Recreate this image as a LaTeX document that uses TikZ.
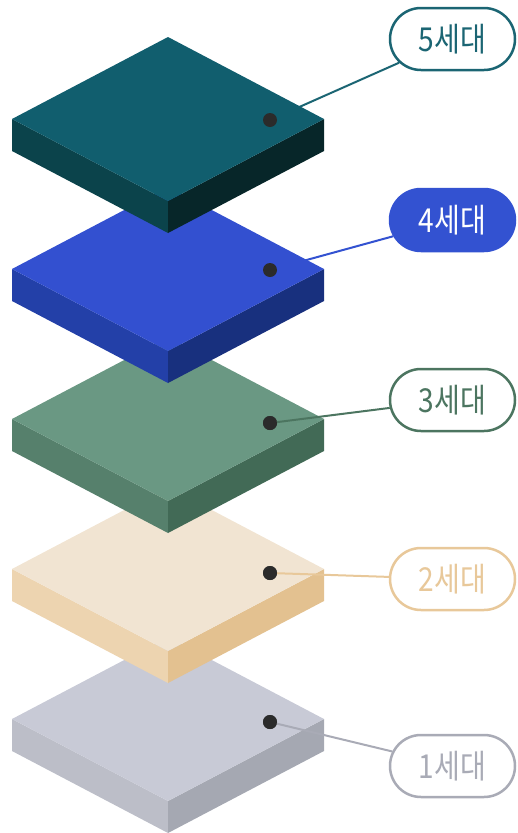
\documentclass[tikz,border=0pt]{standalone}
\usepackage{fontspec}
\newfontfamily\krfont[FakeStretch=0.85]{Noto Sans CJK KR}
\usetikzlibrary{shapes.misc}
\definecolor{dotc}{HTML}{2B2B2B}
\definecolor{tA}{HTML}{115E6E}\definecolor{lA}{HTML}{0B434B}\definecolor{rA}{HTML}{072629}
\definecolor{tB}{HTML}{3350D0}\definecolor{lB}{HTML}{2340A8}\definecolor{rB}{HTML}{18307E}
\definecolor{tC}{HTML}{6A9883}\definecolor{lC}{HTML}{56806C}\definecolor{rC}{HTML}{426A56}
\definecolor{tD}{HTML}{F1E4D2}\definecolor{lD}{HTML}{EDD4B0}\definecolor{rD}{HTML}{E3C190}
\definecolor{tE}{HTML}{C8CAD6}\definecolor{lE}{HTML}{BCBEC8}\definecolor{rE}{HTML}{A5A8B2}
\definecolor{cA}{HTML}{1B6573}
\definecolor{cB}{HTML}{3352D1}
\definecolor{cC}{HTML}{4C7560}
\definecolor{cD}{HTML}{E8C89A}
\definecolor{cE}{HTML}{A9ABB6}
\newcommand\slabdraw[4]{%
  \fill[#3] (12,#1) -- (168,{#1+82}) -- (168,{#1+114}) -- (12,{#1+32}) -- cycle;
  \fill[#4] (168,{#1+82}) -- (324,#1) -- (324,{#1+32}) -- (168,{#1+114}) -- cycle;
  \fill[#2] (12,#1) -- (168,{#1-82}) -- (324,#1) -- (168,{#1+82}) -- cycle;
}
\begin{document}
\begin{tikzpicture}[x=1pt,y=-1pt,
  pill/.style={rounded rectangle, minimum width=125pt, minimum height=62pt,
    line width=2.5pt, inner sep=0pt, fill=white,
    font=\krfont\fontsize{33}{33}\selectfont},
  dot/.style={circle, fill=dotc, minimum size=14pt, inner sep=0pt},
  link/.style={line width=2pt}]
\useasboundingbox (0,0) rectangle (517,833);
% pills
\node[pill, draw=cA, text=cA] (l5) at (452.5,39) {5세대};
\node[pill, draw=cB, fill=cB, text=white] (l4) at (452.5,220) {4세대};
\node[pill, draw=cC, text=cC] (l3) at (452.5,400) {3세대};
\node[pill, draw=cD, text=cD] (l2) at (452.5,579) {2세대};
\node[pill, draw=cE, text=cE] (l1) at (452.5,766) {1세대};
% slab 1
\slabdraw{719}{tE}{lE}{rE}
\node[dot] (d1) at (270,722) {};
\draw[link, cE] (d1.center) -- (l1);
\node[dot] at (d1) {};
% slab 2
\slabdraw{569}{tD}{lD}{rD}
\node[dot] (d2) at (270,573) {};
\draw[link, cD] (d2.center) -- (l2);
\node[dot] at (d2) {};
% slab 3
\slabdraw{419}{tC}{lC}{rC}
\node[dot] (d3) at (270,423) {};
\draw[link, cC] (d3.center) -- (l3);
\node[dot] at (d3) {};
% slab 4 (connector behind)
\coordinate (d4) at (270,270);
\draw[link, cB] (d4) -- (l4);
\slabdraw{269}{tB}{lB}{rB}
\node[dot] at (d4) {};
% slab 5 (connector behind)
\coordinate (d5) at (270,120);
\draw[link, cA] (d5) -- (l5);
\slabdraw{119}{tA}{lA}{rA}
\node[dot] at (d5) {};
\end{tikzpicture}
\end{document}
